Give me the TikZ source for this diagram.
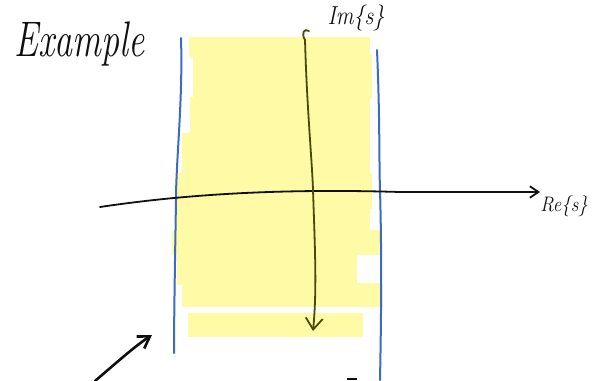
\documentclass[tikz,border=0pt]{standalone}
\usepackage{tikz}
\usetikzlibrary{arrows.meta}
\definecolor{skHi}{HTML}{FFFAA6}
\definecolor{skBlue}{HTML}{3C6BC6}
\definecolor{skInk}{HTML}{101010}
\definecolor{skOlive}{HTML}{4A4A08}
\tikzset{
  hilite/.style={fill=skHi},
  bound/.style={draw=skBlue, line width=2pt, line cap=round},
  axisline/.style={draw=skInk, line width=1.8pt, line cap=round, -{Straight Barb[length=3mm, width=4mm]}},
  imline/.style={draw=skOlive, line width=1.8pt, line cap=round, -{Straight Barb[length=4mm, width=6mm]}},
  pointer/.style={draw=skInk, line width=2.6pt, line cap=round, -{Straight Barb[length=4mm, width=5mm]}},
  hand/.style={font=\itshape, inner sep=0pt, text=skInk}
}
\begin{document}
\begin{tikzpicture}[x=1pt, y=-1pt]
  \useasboundingbox (0,0) rectangle (602,380);
  % highlighted strip
  \foreach \l/\r/\t/\b in {189/370/37/57, 193/372/55/99, 190/370/97/135, 182/370/133/175,
                           177/372/173/209, 175/370/207/232, 172/380/230/255, 177/357/253/285,
                           182/383/283/307, 188/363/313/337}{
    \fill[hilite] (\l,\t) rectangle (\r,\b);
  }
  % region bounds
  \draw[bound] (181,38) .. controls (183,100) and (176,160) .. (176,200)
               .. controls (175,260) and (174,320) .. (174,353);
  \draw[bound] (377,50) .. controls (380,120) and (379,160) .. (380,190)
               .. controls (382,260) and (381,330) .. (380,380);
  % axes
  \coordinate (o) at (313,190);
  \coordinate (imtop) at (305,40);
  \coordinate (imbot) at (313,331);
  \coordinate (releft) at (100,207);
  \coordinate (reright) at (540,192);
  \draw[axisline] (releft) .. controls (200,192) and (300,189) .. (400,192) -- (reright);
  \draw[skOlive, line width=1.8pt, line cap=round] (imtop) .. controls (301,33) and (304,28) .. (309,31);
  \draw[imline] (imtop) .. controls (307,110) and (312,160) .. (o)
                .. controls (315,250) and (317,290) .. (imbot);
  \node[hand, font=\itshape\fontsize{26}{26}\selectfont, xscale=0.85] (imlab) at (356,18) {Im\{s\}};
  \node[hand, font=\itshape\fontsize{21}{21}\selectfont, xscale=0.9] (relab) at (564,206) {Re\{s\}};
  % title
  \node[hand, font=\itshape\fontsize{50}{50}\selectfont, xscale=0.72, anchor=base west] (title) at (14,56) {Example};
  % pointer
  \coordinate (ptail) at (95,381);
  \coordinate (phead) at (152,335);
  \draw[pointer] (ptail) .. controls (115,364) and (135,346) .. (phead);
  \draw[skInk, line width=2pt] (347,379) -- (357,379);
\end{tikzpicture}
\end{document}
